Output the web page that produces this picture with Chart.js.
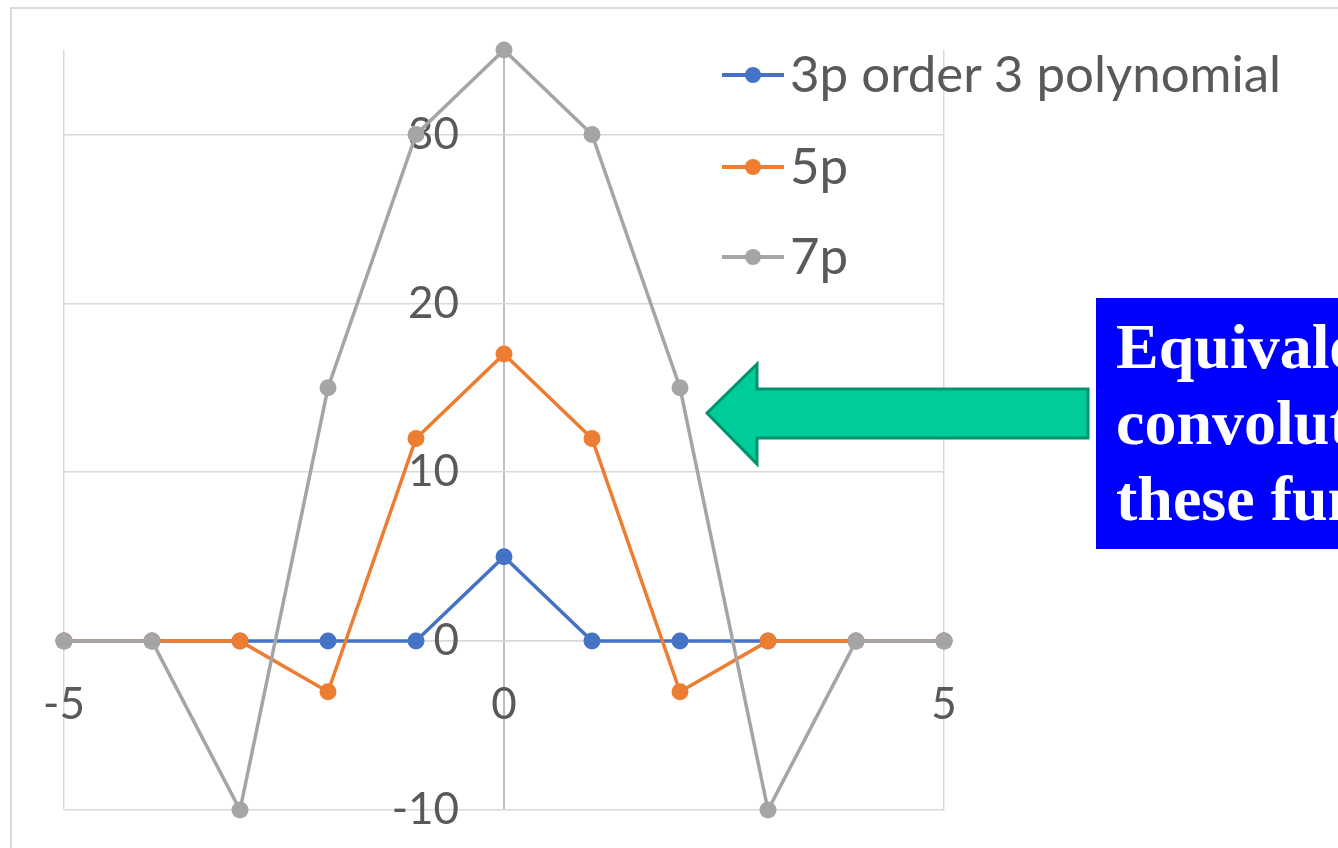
<!DOCTYPE html>
<html>
<head>
<meta charset="utf-8">
<script src="https://cdn.jsdelivr.net/npm/chart.js@4.4.1/dist/chart.umd.min.js"></script>
<style>
  html, body { margin: 0; padding: 0; background: #fff; overflow: hidden; }
  #wrap { position: relative; width: 1338px; height: 848px; overflow: hidden; }
  #frame { position: absolute; left: 10px; top: 7px; width: 1400px; height: 900px; border: 2px solid #d9d9d9; box-sizing: border-box; }
  #grafico { position: absolute; left: 0; top: 0; }
  .leg { position: absolute; left: 722px; height: 20px; font: 51px Lato, sans-serif; color: #595959; white-space: nowrap; }
  .leg .linha { position: absolute; left: 0; top: 8px; width: 62px; height: 4px; }
  .leg .ponto { position: absolute; left: 23px; top: 2px; width: 16px; height: 16px; border-radius: 50%; }
  .leg .txt { position: absolute; left: 68px; top: -18px; line-height: 51px; }
  #caixa { position: absolute; left: 1096px; top: 298px; width: 420px; height: 251px; background: #0000ff; color: #fff;
    font: bold 64px "Liberation Serif", "Times New Roman", serif; line-height: 76px; padding: 11px 0 0 20px; box-sizing: border-box; white-space: nowrap; }
  #seta { position: absolute; left: 0; top: 0; }
</style>
</head>
<body>
<div id="wrap">
  <div id="frame"></div>
  <canvas id="grafico" width="1338" height="848"></canvas>
  <div id="legenda"></div>
  <svg id="seta" width="1338" height="848">
    <polygon points="707,413 757,364 757,389 1088,389 1088,438 757,438 757,464" fill="#00cc99" stroke="#00936d" stroke-width="3" stroke-linejoin="miter"/>
  </svg>
  <div id="caixa">Equivalent<br>convolution for<br>these functions</div>
</div>
<script>
const posicoes = [-5, -4, -3, -2, -1, 0, 1, 2, 3, 4, 5];
const nomes = ['3p order 3 polynomial', '5p', '7p'];
const cores = ['#4472c4', '#ed7d31', '#a5a5a5'];
const p3 = [0, 0, 0, 0, 0, 5, 0, 0, 0, 0, 0];
const p5 = [0, 0, 0, -3, 12, 17, 12, -3, 0, 0, 0];
const p7 = [0, 0, -10, 15, 30, 35, 30, 15, -10, 0, 0];
const series = [p3, p5, p7];
const ticksX = [-5, 0, 5];
const ticksY = [-10, 0, 10, 20, 30];

const legendaTopo = [75, 167, 257];

function montarLegenda() {
  const el = document.getElementById('legenda');
  nomes.forEach((nome, i) => {
    const d = document.createElement('div');
    d.className = 'leg';
    d.style.top = (legendaTopo[i] - 10) + 'px';
    d.innerHTML = `<div class="linha" style="background:${cores[i]}"></div>
      <div class="ponto" style="background:${cores[i]}"></div>
      <div class="txt">${nome}</div>`;
    el.appendChild(d);
  });
}

function gerarGrafico() {
  const ctx = document.getElementById('grafico').getContext('2d');
  const datasets = series.map((valores, i) => ({
    label: nomes[i],
    data: valores.map((v, k) => ({ x: posicoes[k], y: v })),
    borderColor: cores[i],
    backgroundColor: cores[i],
    borderWidth: 3.5,
    pointRadius: 8.5,
    pointBorderWidth: 0,
    pointBackgroundColor: cores[i],
    fill: false,
    tension: 0,
    clip: false,
    order: series.length - i
  }));

  new Chart(ctx, {
    type: 'line',
    data: { datasets: datasets },
    options: {
      responsive: false,
      animation: false,
      layout: { padding: { left: 64, top: 50, right: 394, bottom: 38 } },
      plugins: { legend: { display: false }, tooltip: { enabled: false } },
      scales: {
        x: {
          type: 'linear',
          min: -5,
          max: 5,
          position: { y: 0 },
          afterBuildTicks: (axis) => { axis.ticks = ticksX.map(v => ({ value: v })); },
          // a linha vertical em x=0 faz o papel do eixo y (mais escura)
          grid: { color: (c) => c.tick && c.tick.value === 0 ? '#bfbfbf' : '#d9d9d9', lineWidth: (c) => c.tick && c.tick.value === 0 ? 2 : 1.5, drawTicks: false },
          border: { color: '#d9d9d9', width: 1.5 },
          ticks: { padding: 37, color: '#595959', font: { family: 'Lato', size: 44 } }
        },
        y: {
          min: -10,
          max: 35,
          // rótulos ficam um pouco à esquerda do eixo, como no Excel
          position: { x: -0.511 },
          afterBuildTicks: (axis) => { axis.ticks = ticksY.map(v => ({ value: v })); },
          grid: { color: '#d9d9d9', lineWidth: 1.5, drawTicks: false },
          border: { display: false },
          ticks: { padding: 0, color: '#595959', font: { family: 'Lato', size: 44 } }
        }
      }
    }
  });
}

montarLegenda();
gerarGrafico();
</script>
</body>
</html>
